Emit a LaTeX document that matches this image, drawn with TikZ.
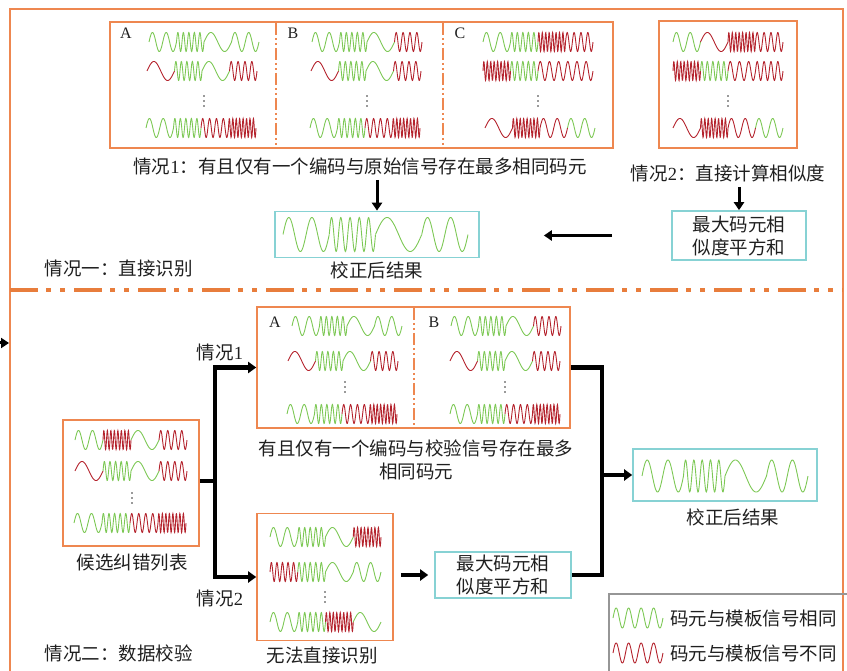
\documentclass[tikz,border=0pt]{standalone}
\usepackage{fontspec}
\setmainfont{Liberation Serif}
\newfontfamily\cjk{Noto Sans CJK SC}
\usetikzlibrary{arrows.meta}
\definecolor{fr}{RGB}{238,135,80}
\definecolor{cy}{RGB}{135,210,212}
\definecolor{wg}{RGB}{125,200,85}
\definecolor{wr}{RGB}{180,35,45}
\definecolor{sepc}{RGB}{232,125,60}
\definecolor{lg}{RGB}{150,150,150}
% x0, y0, seglen, amp, list of cycles/colour
\newcommand\wrow[5]{%
  \foreach \c/\col [count=\i from 0] in {#5} {
    \draw[\col, line width=0.9pt] plot[domain=0:1, samples=110, variable=\t]
      ({#1+(\i+\t)*#3}, {#2-#4*sin(360*\c*\t)});
  }}
\newcommand\vdts[2]{\foreach \d in {-5,0,5} {\fill[black!80] (#1,#2+\d) circle (0.9pt);}}
\begin{document}
\begin{tikzpicture}[x=1pt,y=-1pt,
  every node/.style={font=\cjk\fontsize{18.5}{23}\selectfont, text=black!88, inner sep=0pt},
  obox/.style={draw=fr, line width=1.6pt, inner sep=0pt},
  cbox/.style={draw=cy, line width=1.6pt, inner sep=0pt, align=center},
  arrt/.style={line width=3pt, -{Triangle[length=8pt,width=10pt]}},
  conn/.style={line width=4.5pt},
  arrb/.style={line width=4.5pt, -{Triangle[length=8pt,width=11pt]}},
  divl/.style={draw=fr, line width=2pt, dash pattern=on 12pt off 3pt on 2pt off 3pt on 2pt off 3pt},
  lab/.style={font=\rmfamily\fontsize{16}{18}\selectfont}]
\useasboundingbox (0,0) rectangle (847,671);

% outer frame and separator
\draw[fr, line width=2pt] (10,9) rectangle (843,700);
\draw[sepc, line width=4pt, dash pattern=on 28pt off 8pt on 5pt off 9pt on 5pt off 9pt] (10,290) -- (843,290);
\coordinate (lin) at (-8,343);
\coordinate (lout) at (9,343);
\draw[arrt] (lin) -- (lout);

% ===== top: case one =====
\node[obox, minimum width=503pt, minimum height=126pt] (abc) at (361.5,85) {};
\draw[divl] (276,23) -- (276,147);
\draw[divl] (443,23) -- (443,147);
\node[lab] at (126,33) {A};
\node[lab] at (293,33) {B};
\node[lab] at (460,33) {C};
% panel A
\wrow{149}{42}{27.5}{9.5}{2/wg,5/wg,1/wg,2/wg}
\wrow{147}{71}{27.5}{9.5}{1/wr,5/wg,1/wg,4/wr}
\vdts{204}{101}
\wrow{146}{128}{27.5}{9.5}{2/wg,5/wg,4/wr,8/wr}
% panel B
\wrow{312}{42}{27.5}{9.5}{2/wg,5/wg,1/wg,4/wr}
\wrow{311}{71}{27.5}{9.5}{1/wr,5/wg,1/wg,4/wr}
\vdts{367}{101}
\wrow{310}{128}{27.5}{9.5}{2/wg,5/wg,4/wr,8/wr}
% panel C
\wrow{483}{42}{27.5}{9.5}{2/wg,5/wg,8/wr,4/wr}
\wrow{483}{71}{27.5}{9.5}{8/wr,5/wg,3/wr,3/wr}
\vdts{538}{101}
\wrow{485}{128}{27.5}{9.5}{1/wr,8/wr,2/wr,2/wg}
% case 2 box
\node[obox, minimum width=138pt, minimum height=127pt] (c2t) at (728,84.5) {};
\wrow{673}{42}{27.5}{9.5}{2/wg,1/wr,8/wr,4/wr}
\wrow{673}{71}{27.5}{9.5}{8/wr,5/wg,3/wr,4/wr}
\vdts{728}{101}
\wrow{673}{128}{27.5}{9.5}{1/wr,8/wr,2/wr,2/wg}

\node (t1) at (360,166) {情况{\rmfamily 1}：有且仅有一个编码与原始信号存在最多相同码元};
\node (t2) at (728,173) {情况{\rmfamily 2}：直接计算相似度};

\node[cbox, minimum width=204pt, minimum height=46pt] (res1) at (377,234.5) {};
\wrow{283}{234.5}{46.25}{17}{2/wg,5/wg,1/wg,2/wg}
\node (res1l) at (377,270) {校正后结果};
\node (case1) at (119,268) {情况一：直接识别};

\node[cbox, minimum width=134pt, minimum height=49pt] (mx1) at (739,235.5) {最大码元相\\似度平方和};

\draw[arrt, shorten <=5pt] (t1.south -| res1.north) -- (res1.north);
\draw[arrt, shorten <=5pt] (t2.south -| mx1.north) -- (mx1.north);
\draw[arrt] ([xshift=-59pt]mx1.west) -- ([xshift=64pt]res1.east |- mx1.west);

% ===== bottom: case two =====
\node[obox, minimum width=136pt, minimum height=126pt] (cand) at (131,483) {};
\wrow{75}{440}{28}{9.5}{2/wg,8/wr,1/wg,4/wr}
\wrow{75}{471}{28}{9.5}{1/wr,5/wg,1/wg,4/wr}
\vdts{132}{498}
\wrow{74}{523}{28}{9.5}{2/wg,5/wg,4/wr,8/wr}
\node (candl) at (132,563) {候选纠错列表};

\node[obox, minimum width=313pt, minimum height=121pt] (ab) at (413.5,367.5) {};
\draw[divl] (414,308) -- (414,427);
\node[lab] at (275,322) {A};
\node[lab] at (434,322) {B};
\wrow{292}{326}{27.5}{9.5}{2/wg,5/wg,1/wg,2/wg}
\wrow{288}{361}{27.5}{9.5}{1/wr,5/wg,1/wg,4/wr}
\vdts{345}{387}
\wrow{287}{414}{27.5}{9.5}{2/wg,5/wg,4/wr,8/wr}
\wrow{451}{326}{27.5}{9.5}{2/wg,5/wg,1/wg,4/wr}
\wrow{450}{361}{27.5}{9.5}{1/wr,5/wg,1/wg,4/wr}
\vdts{505}{387}
\wrow{450}{414}{27.5}{9.5}{2/wg,5/wg,4/wr,8/wr}
\node[align=center] (abl) at (416,460) {有且仅有一个编码与校验信号存在最多\\相同码元};

\node[obox, minimum width=136pt, minimum height=127pt] (c2b) at (325,577) {};
\wrow{270}{537}{27.75}{9.5}{2/wg,5/wg,1/wg,8/wr}
\wrow{270}{572}{27.75}{9.5}{5/wr,5/wg,1/wg,2/wg}
\vdts{325}{597}
\wrow{270}{622}{27.75}{9.5}{2/wg,5/wg,8/wr,1/wg}
\node (c2bl) at (322,655) {无法直接识别};

\node (q1) at (220,352) {情况{\rmfamily 1}};
\node (q2) at (220,598) {情况{\rmfamily 2}};
\node (case2) at (119,653) {情况二：数据校验};

\node[cbox, minimum width=136pt, minimum height=46pt] (mx2) at (503,575) {最大码元相\\似度平方和};
\node[cbox, minimum width=184pt, minimum height=52pt] (res2) at (725,475) {};
\wrow{642}{476}{41.5}{16}{2/wg,5/wg,1/wg,2/wg}
\node (res2l) at (733,517) {校正后结果};

\coordinate (j1) at (215,481);
\coordinate (j2) at (602,475);
\coordinate (rb) at (602,575);
\draw[conn] (cand.east |- j1) -- (j1);
\draw[arrb] (j1) |- (ab.west);
\draw[arrb] (j1) |- (c2b.west);
\draw[arrb, shorten <=7pt, shorten >=6pt] (c2b.east |- mx2.west) -- (mx2.west);
\draw[conn] (ab.east) -| (rb) -- (mx2.east);
\draw[arrb] (j2) -- (res2.west);

% legend
\node[draw=lg, line width=1.2pt, minimum width=241pt, minimum height=106pt] (leg) at (729.5,647) {};
\wrow{613}{618}{12.5}{10}{1/wg,1/wg,1/wg,1/wg}
\wrow{613}{653}{12.5}{10}{1/wr,1/wr,1/wr,1/wr}
\node[anchor=west] (lg1) at (670,618) {码元与模板信号相同};
\node[anchor=west] (lg2) at (670,653) {码元与模板信号不同};
\end{tikzpicture}
\end{document}
